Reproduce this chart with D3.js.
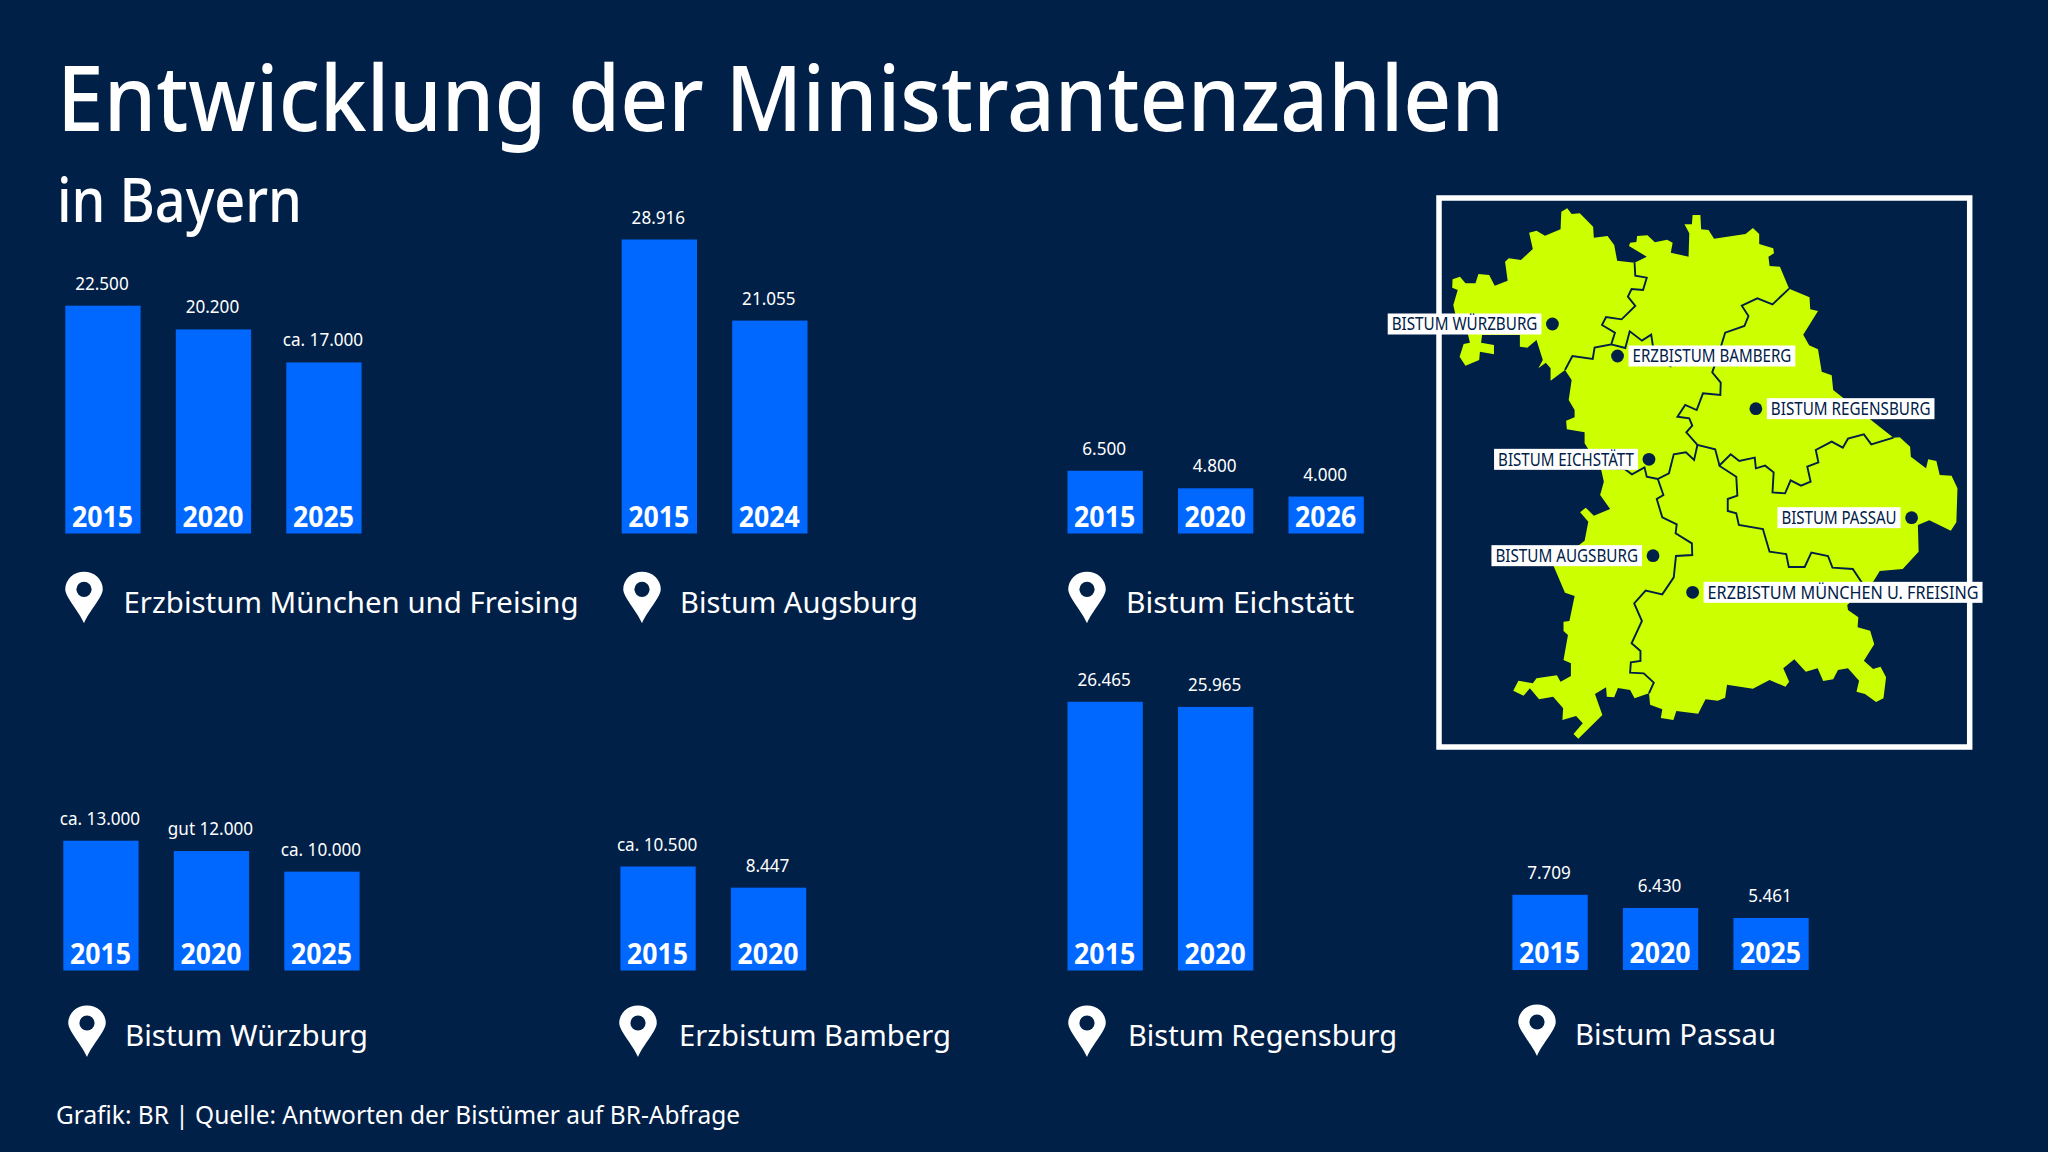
<!DOCTYPE html>
<html lang="de">
<head>
<meta charset="utf-8">
<title>Entwicklung der Ministrantenzahlen</title>
<script src="https://cdn.jsdelivr.net/npm/d3@7"></script>
<style>
  html, body { margin: 0; padding: 0; background: #002048; }
  svg { display: block; font-family: "Noto Sans", sans-serif; }
</style>
</head>
<body>
<svg id="chart" width="2048" height="1152"></svg>
<script>
// Bar data, one entry per diocese
const dioceses = ["Erzbistum München und Freising", "Bistum Augsburg", "Bistum Eichstätt",
                  "Bistum Würzburg", "Erzbistum Bamberg", "Bistum Regensburg", "Bistum Passau"];
const years = [
  ["2015", "2020", "2025"], ["2015", "2024"], ["2015", "2020", "2026"],
  ["2015", "2020", "2025"], ["2015", "2020"], ["2015", "2020"], ["2015", "2020", "2025"]
];
const counts = [
  [22500, 20200, 17000], [28916, 21055], [6500, 4800, 4000],
  [13000, 12000, 10000], [10500, 8447], [26465, 25965], [7709, 6430, 5461]
];
const countLabels = [
  ["22.500", "20.200", "ca. 17.000"], ["28.916", "21.055"], ["6.500", "4.800", "4.000"],
  ["ca. 13.000", "gut 12.000", "ca. 10.000"], ["ca. 10.500", "8.447"], ["26.465", "25.965"], ["7.709", "6.430", "5.461"]
];

// Panel placement on the page
const panelLeft = [65.3, 621.7, 1067.5, 63.3, 620.4, 1067.5, 1512.4];
const panelBase = [533.5, 533.5, 533.5, 970.5, 970.5, 970.5, 970];
const pinX = [84, 642, 1087, 87, 638, 1087, 1537];
const pinY = [589.3, 589.3, 589.3, 1023, 1023, 1023, 1022];
const nameX = [123.5, 680, 1126, 125, 679, 1128, 1575];
const nameBase = [612.7, 612.7, 612.7, 1045.7, 1045.7, 1045.7, 1044.7];
const nameWidth = [455, 238, 228, 243, 272, 269, 201];

// Map of Bavaria in map units
const bavariaOutline = [
  [398,55],[410,72],[432,70],[468,110],[470,143],[507,138],[525,165],[533,212],[580,218],[613,200],[565,168],[568,158],
  [585,156],[587,138],[615,136],[635,157],[668,149],[683,158],[678,188],[726,200],[728,130],[715,103],[735,103],[737,75],
  [758,75],[760,118],[780,120],[795,146],[880,132],[900,114],[917,132],[917,162],[955,175],[957,190],[942,200],[945,228],
  [973,230],[998,296],[1053,322],[1055,358],[1076,363],[1036,434],[1052,466],[1076,478],[1086,545],[1113,556],[1117,600],
  [1280,743],[1297,742],[1325,770],[1327,800],[1368,835],[1374,808],[1396,813],[1405,855],[1437,857],[1453,895],[1450,997],
  [1435,1022],[1377,991],[1346,1005],[1348,1085],[1305,1137],[1243,1143],[1225,1175],[1155,1245],[1157,1260],[1185,1282],
  [1183,1312],[1217,1322],[1228,1363],[1200,1412],[1225,1437],[1245,1430],[1260,1462],[1253,1525],[1233,1536],[1203,1512],
  [1180,1505],[1187,1472],[1157,1435],[1130,1440],[1117,1468],[1090,1473],[1075,1435],[1043,1445],[1012,1408],[982,1435],
  [998,1475],[988,1490],[945,1470],[900,1496],[830,1484],[825,1523],[805,1532],[772,1528],[752,1571],[693,1563],[685,1590],
  [651,1584],[655,1558],[622,1544],[619,1510],[580,1525],[568,1500],[535,1494],[525,1522],[505,1520],[503,1492],[473,1512],
  [493,1575],[428,1646],[415,1632],[440,1600],[422,1578],[385,1590],[387,1555],[360,1520],[322,1528],[297,1495],[280,1517],
  [252,1502],[266,1472],[305,1480],[315,1465],[370,1456],[380,1475],[408,1458],[408,1420],[388,1410],[400,1335],[388,1323],
  [388,1295],[404,1293],[418,1218],[392,1208],[360,1125],[445,1052],[455,995],[433,967],[448,953],[470,977],[514,957],
  [487,915],[497,875],[490,840],[445,760],[445,727],[397,718],[395,692],[418,682],[418,660],[402,630],[410,570],[392,540],
  [353,572],[353,535],[340,518],[320,535],[332,510],[315,450],[290,473],[270,470],[270,435],[168,435],[165,458],[200,465],
  [200,493],[162,485],[160,510],[123,527],[107,500],[118,462],[135,458],[130,435],[95,370],[90,345],[102,300],[87,293],
  [88,268],[108,260],[123,280],[150,280],[158,252],[187,255],[202,287],[237,272],[230,215],[240,205],[273,210],[305,177],
  [295,128],[315,122],[338,137],[380,118],[382,65]
];
const dioceseBorders = [
  [[580,218],[582,257],[613,263],[603,300],[572,297],[562,320],[582,348],[545,388],[503,381],[492,405],[527,428],[517,463],
   [472,473],[467,507],[412,498],[392,540]],
  [[517,463],[555,474],[567,424],[600,452],[625,434],[630,470],[640,510],[680,530]],
  [[998,296],[953,343],[912,325],[870,347],[888,378],[877,408],[825,428],[805,500],[790,547],[813,578],[812,615],[765,610],
   [748,660],[717,645],[696,680],[728,685],[736,707],[720,727],[750,765],[798,778],[810,828],[855,860],[858,917],[832,927],
   [832,963],[855,970],[862,1005],[927,1017],[945,1085],[990,1092],[997,1131],[1040,1131],[1058,1088],[1103,1098],[1115,1133],
   [1170,1137],[1193,1175],[1205,1200]],
  [[750,765],[741,810],[719,787],[686,793],[673,850],[643,867],[658,915],[640,927],[655,982],[694,1003],[691,1030],[735,1060],
   [736,1095],[692,1098],[686,1162],[655,1213],[610,1202],[579,1240],[600,1293],[572,1360],[596,1383],[596,1413],[570,1417],
   [568,1448],[605,1450],[632,1478],[619,1510]],
  [[643,867],[613,860],[607,832],[573,853],[553,837],[500,835]],
  [[808,828],[840,793],[863,813],[905,803],[908,835],[933,827],[956,847],[953,907],[987,910],[1002,871],[1030,887],[1056,875],
   [1047,830],[1077,817],[1070,780],[1113,755],[1143,773],[1157,746],[1200,733],[1220,763],[1280,743]]
];
const seatNames = ["BISTUM WÜRZBURG", "ERZBISTUM BAMBERG", "BISTUM REGENSBURG", "BISTUM EICHSTÄTT",
                   "BISTUM PASSAU", "BISTUM AUGSBURG", "ERZBISTUM MÜNCHEN U. FREISING"];
const seatPoints = [[358,402],[534,498],[908,656],[619,808],[1329,983],[630,1097],[737,1207]];
const seatSide = ["left", "right", "right", "left", "left", "left", "right"];
const seatBoxWidth = [153.7, 166.8, 167.6, 143.9, 123.2, 150.6, 278.9];

const NAVY = "#002048", BLUE = "#0068ff", LIME = "#ccff00";
const svg = d3.select("#chart");
svg.append("rect").attr("width", 2048).attr("height", 1152).attr("fill", NAVY);

// Condense a text element horizontally to a given width
function fit(sel, width) {
  sel.attr("textLength", width).attr("lengthAdjust", "spacingAndGlyphs");
}
function condense(sel, factor) {
  sel.each(function () {
    fit(d3.select(this), this.getComputedTextLength() * factor);
  });
}

// Headings and source line
svg.append("text").attr("x", 57).attr("y", 131).attr("fill", "#fff").attr("font-size", 91).attr("font-weight", 500)
  .text("Entwicklung der Ministrantenzahlen").call(fit, 1447);
svg.append("text").attr("x", 57).attr("y", 222).attr("fill", "#fff").attr("font-size", 61).attr("font-weight", 500)
  .text("in Bayern").call(fit, 245);
svg.append("text").attr("x", 56).attr("y", 1124).attr("fill", "#fff").attr("font-size", 24.5)
  .text("Grafik: BR | Quelle: Antworten der Bistümer auf BR-Abfrage").call(fit, 684);

// Bars: one shared height scale for all panels
const STEP = 110.5, BAR = 75.3;
const heightScale = d3.scaleLinear().domain([420, 28916]).range([0, 294]);
const pinShape = "M0,34 C-5,22 -18.75,8 -18.75,0 A18.75,17.6 0 0 1 18.75,0 C18.75,8 5,22 0,34 Z";

dioceses.forEach((name, i) => {
  const x = d3.scaleBand()
    .domain(years[i])
    .range([panelLeft[i], panelLeft[i] + STEP * (years[i].length - 1) + BAR])
    .paddingInner(1 - BAR / STEP);
  const rows = years[i].map((year, k) => ({ year, value: counts[i][k], label: countLabels[i][k] }));
  const panel = svg.append("g");

  panel.selectAll("rect").data(rows).join("rect")
    .attr("x", d => x(d.year))
    .attr("y", d => panelBase[i] - heightScale(d.value))
    .attr("width", x.bandwidth())
    .attr("height", d => heightScale(d.value))
    .attr("fill", BLUE);

  panel.selectAll("text.count").data(rows).join("text")
    .attr("class", "count")
    .attr("x", d => x(d.year) + x.bandwidth() / 2 - 1)
    .attr("y", d => panelBase[i] - heightScale(d.value) - 16)
    .attr("text-anchor", "middle").attr("fill", "#fff").attr("font-size", 18.4)
    .text(d => d.label).call(condense, 0.93);

  panel.selectAll("text.year").data(rows).join("text")
    .attr("class", "year")
    .attr("x", d => x(d.year) + x.bandwidth() / 2 - 0.5)
    .attr("y", panelBase[i] - 7)
    .attr("text-anchor", "middle").attr("fill", "#fff").attr("font-size", 29).attr("font-weight", 700)
    .text(d => d.year).call(condense, 0.92);

  const pin = panel.append("g").attr("transform", `translate(${pinX[i]},${pinY[i]})`);
  pin.append("path").attr("d", pinShape).attr("fill", "#fff");
  pin.append("circle").attr("r", 7.6).attr("fill", NAVY);

  panel.append("text").attr("x", nameX[i]).attr("y", nameBase[i])
    .attr("fill", "#fff").attr("font-size", 29.5)
    .text(name).call(fit, nameWidth[i]);
});

// Map inset
const mapX = d3.scaleLinear().domain([0, 1568]).range([1420, 2000]);
const mapY = d3.scaleLinear().domain([0, 840]).range([190, 470]);
const mapLine = d3.line().x(d => mapX(d[0])).y(d => mapY(d[1]));
const inset = svg.append("g");

inset.append("rect").attr("x", 1439).attr("y", 198).attr("width", 530.7).attr("height", 549)
  .attr("fill", "none").attr("stroke", "#fff").attr("stroke-width", 5.5);
inset.append("path").attr("d", mapLine(bavariaOutline) + "Z").attr("fill", LIME);
inset.selectAll("path.border").data(dioceseBorders).join("path")
  .attr("class", "border").attr("d", mapLine)
  .attr("fill", "none").attr("stroke", NAVY).attr("stroke-width", 1.9).attr("stroke-linejoin", "miter");

seatNames.forEach((name, i) => {
  const cx = mapX(seatPoints[i][0]), cy = mapY(seatPoints[i][1]);
  const left = seatSide[i] === "left";
  const w = seatBoxWidth[i];
  const boxX = left ? cx - 11 - w : cx + 11;
  const g = inset.append("g");
  g.append("rect").attr("fill", "#fff")
    .attr("x", boxX).attr("y", cy - 10.5).attr("width", w).attr("height", 21);
  g.append("text").attr("fill", NAVY).attr("font-size", 17.6)
    .attr("x", boxX + 4).attr("y", cy + 6.3)
    .text(name).call(fit, w - 8);
  inset.append("circle").attr("cx", cx).attr("cy", cy).attr("r", 6.4).attr("fill", NAVY);
});
</script>
</body>
</html>
